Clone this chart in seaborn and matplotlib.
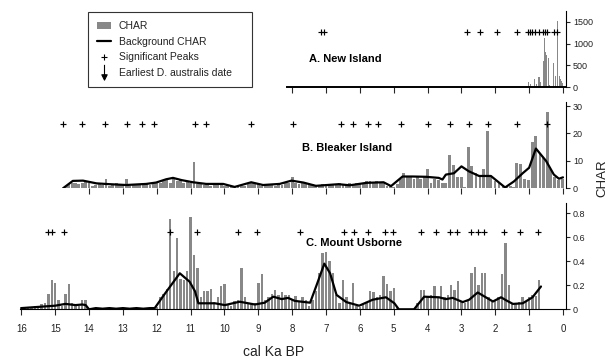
import numpy as np
import matplotlib
matplotlib.use("Agg")
import matplotlib.pyplot as plt
import seaborn as sns
from matplotlib.path import Path
from matplotlib.lines import Line2D
from matplotlib.patches import Patch

# ---------------- data ----------------
# A. New Island
a_ages = [1.01, 0.96, 0.85, 0.79, 0.71, 0.66, 0.57, 0.54, 0.51, 0.48,
          0.44, 0.39, 0.27, 0.23, 0.16, 0.11, 0.07, 0.04, 0.01]
a_char = [120, 70, 200, 80, 225, 110, 600, 1130, 800, 730,
          670, 50, 560, 250, 1520, 250, 200, 140, 100]
a_peaks = [7.15, 7.07, 2.85, 2.45, 1.96, 1.37, 1.02, 0.97, 0.92, 0.83,
           0.70, 0.58, 0.53, 0.48, 0.27, 0.17]

# B. Bleaker Island
b_ages_left = np.round(np.arange(14.7, 3.75, -0.1), 1)
b_char_left = [0.5, 1.5, 2.0, 2.0, 1.5, 2.0, 2.2, 1.8, 1.0, 1.2,
               1.5, 1.2, 3.4, 1.0, 1.5, 2.0, 1.5, 1.2, 3.3, 1.0,
               1.2, 1.5, 1.2, 2.0, 1.5, 1.2, 2.0, 2.0, 2.0, 2.5,
               3.0, 2.0, 3.5, 2.5, 3.0, 2.0, 2.5, 2.0, 9.7, 1.5,
               1.5, 1.2, 1.5, 1.0, 1.5, 1.2, 1.5, 1.0, 1.2, 0.8,
               0.5, 0.5, 1.0, 1.0, 1.5, 2.2, 2.0, 1.5, 1.0, 1.5,
               1.2, 1.5, 1.0, 1.5, 1.2, 1.8, 2.0, 4.0, 2.0, 1.5,
               1.8, 1.5, 1.2, 1.5, 0.8, 1.0, 1.5, 1.2, 1.5, 1.2,
               1.5, 2.0, 1.2, 1.5, 2.0, 1.5, 2.0, 1.5, 2.0, 2.5,
               2.5, 2.2, 2.5, 2.0, 2.2, 1.0, 0.8, 0.5, 1.5, 3.5,
               5.5, 4.0, 4.0, 3.5, 4.0, 3.5, 4.0, 7.0, 2.0, 3.5]
b_ages_right = [3.68, 3.57, 3.46, 3.34, 3.23, 3.12, 3.01, 2.91, 2.80, 2.69,
                2.57, 2.45, 2.34, 2.23, 2.13, 2.01, 1.89, 1.77, 1.66, 1.54,
                1.45, 1.37, 1.25, 1.14, 1.02, 0.90, 0.80, 0.68, 0.58, 0.47,
                0.36, 0.24, 0.13, 0.02]
b_char_right = [3.0, 2.0, 2.0, 12.3, 8.5, 4.0, 4.0, 0.5, 15.0, 8.0,
                5.5, 4.5, 7.0, 21.0, 4.0, 2.5, 2.0, 1.0, 0.3, 1.0,
                0.5, 9.2, 9.0, 3.5, 3.0, 17.0, 19.0, 13.0, 11.0, 28.0,
                7.0, 4.0, 3.0, 3.5]
b_bg_ages = [14.77, 14.48, 14.18, 13.78, 13.39, 12.9, 12.31, 12.02, 11.72, 11.52,
             11.27, 10.93, 10.54, 10.04, 9.7, 9.21, 8.86, 8.37, 8.02, 7.67,
             7.3, 6.63, 6.3, 5.8, 5.3, 5.08, 4.74, 4.44, 4.05, 3.67,
             3.56, 3.46, 3.22, 3.0, 2.78, 2.48, 2.13, 1.93, 1.71, 1.45,
             1.19, 1.0, 0.8, 0.5, 0.27, 0.12, 0.0]
b_bg = [0.0, 2.7, 2.8, 1.8, 1.5, 1.2, 1.6, 2.1, 3.3, 3.8,
        3.0, 2.2, 1.6, 1.6, 0.5, 2.2, 1.2, 1.6, 2.8, 2.1,
        0.9, 1.5, 1.1, 2.0, 2.2, 0.8, 4.3, 4.3, 4.2, 3.8,
        3.2, 5.0, 5.5, 8.0, 6.2, 4.5, 4.5, 2.5, 0.3, 2.5,
        5.5, 7.5, 14.5, 10.0, 5.0, 3.5, 4.0]
b_peaks = [14.77, 14.21, 13.54, 12.88, 12.43, 12.09, 10.88, 10.54, 9.21, 7.99,
           6.56, 6.21, 5.77, 5.47, 4.79, 4.00, 3.34, 2.79, 2.22, 1.37, 0.48]

# C. Mount Usborne
c_ages_early = np.round(np.arange(16.0, 13.95, -0.1), 1)
c_char_early = [0.02, 0.01, 0.02, 0.02, 0.03, 0.03, 0.04, 0.05, 0.13, 0.24,
                0.22, 0.08, 0.03, 0.125, 0.21, 0.05, 0.03, 0.03, 0.075, 0.077,
                0.0]
c_ages_late = np.round(np.arange(12.0, 0.65, -0.1), 1)
c_char_late = [0.02, 0.10, 0.13, 0.17, 0.75, 0.32, 0.59, 0.25, 0.24, 0.32,
               0.77, 0.45, 0.34, 0.10, 0.15, 0.15, 0.17, 0.06, 0.10, 0.19,
               0.21, 0.04, 0.03, 0.07, 0.08, 0.34, 0.10, 0.05, 0.04, 0.05,
               0.22, 0.29, 0.08, 0.10, 0.13, 0.16, 0.12, 0.14, 0.12, 0.12,
               0.08, 0.11, 0.06, 0.10, 0.08, 0.03, 0.08, 0.15, 0.30, 0.47,
               0.48, 0.40, 0.30, 0.12, 0.05, 0.24, 0.10, 0.04, 0.22, 0.03,
               0.02, 0.04, 0.06, 0.15, 0.14, 0.10, 0.12, 0.28, 0.21, 0.15,
               0.18, 0.02, 0.0, 0.0, 0.0, 0.0, 0.0, 0.05, 0.16, 0.16,
               0.10, 0.12, 0.195, 0.10, 0.19, 0.10, 0.12, 0.20, 0.16, 0.235,
               0.07, 0.05, 0.08, 0.30, 0.355, 0.20, 0.30, 0.30, 0.10, 0.06,
               0.08, 0.10, 0.29, 0.55, 0.20, 0.05, 0.04, 0.06, 0.10, 0.06,
               0.10, 0.12, 0.11, 0.245]
c_bg_ages = [16.0, 15.5, 15.0, 14.7, 14.4, 14.2, 14.1, 14.0, 13.8, 13.6,
             13.4, 13.2, 13.0, 12.8, 12.6, 12.4, 12.2, 12.06, 11.76, 11.32,
             11.03, 10.87, 10.77, 10.5, 10.28, 9.99, 9.55, 9.1, 8.81, 8.56,
             8.31, 8.12, 7.92, 7.62, 7.47, 7.28, 7.05, 6.88, 6.69, 6.4,
             6.02, 5.62, 5.23, 4.98, 4.85, 4.4, 4.1, 3.66, 3.46, 3.26,
             2.96, 2.77, 2.52, 2.22, 2.07, 1.83, 1.68, 1.48, 1.19, 0.9,
             0.65]
c_bg = [0.01, 0.02, 0.03, 0.045, 0.035, 0.04, 0.035, 0.0, 0.01, 0.005,
        0.01, 0.005, 0.01, 0.005, 0.01, 0.005, 0.01, 0.01, 0.13, 0.30,
        0.23, 0.15, 0.05, 0.05, 0.05, 0.035, 0.063, 0.04, 0.055, 0.105,
        0.085, 0.095, 0.07, 0.06, 0.055, 0.2, 0.38, 0.3, 0.12, 0.06,
        0.03, 0.08, 0.1, 0.05, 0.0, 0.0, 0.105, 0.1, 0.085, 0.095,
        0.06, 0.08, 0.14, 0.09, 0.065, 0.1, 0.075, 0.045, 0.05, 0.1,
        0.19]
c_peaks = [15.21, 15.10, 14.75, 11.62, 10.80, 9.60, 9.03, 7.78, 6.46, 6.17,
           5.75, 5.25, 5.01, 4.19, 3.75, 3.34, 3.14, 2.72, 2.52, 2.33,
           1.73, 1.27, 0.75]

a_yticks = [0, 500, 1000, 1500]
b_yticks = [0, 10, 20, 30]
c_yticks = [0, 0.2, 0.4, 0.6, 0.8]
c_yticklabels = ["0", "0.2", "0.4", "0.6", "0.8"]
x_ticks = list(range(16, -1, -1))

# ---------------- style ----------------
sns.set_style("white")
plt.rcParams["font.family"] = ["Liberation Sans", "DejaVu Sans"]
BAR = "#888888"
TXT = "#222222"

W, H = 612, 358
fig = plt.figure(figsize=(W / 100, H / 100), dpi=100)

XL, XR = 20 / W, 566 / W
xlim = (16.04, -0.089)


def mk_axes(top_px, bot_px):
    return fig.add_axes([XL, 1 - bot_px / H, XR - XL, (bot_px - top_px) / H])


def style(ax, ylim, yticks, ylabels=None):
    ax.set_xlim(*xlim)
    ax.set_ylim(*ylim)
    ax.yaxis.tick_right()
    for s in ["top", "left"]:
        ax.spines[s].set_visible(False)
    ax.spines["right"].set_linewidth(0.8)
    ax.spines["bottom"].set_linewidth(0.8)
    ax.spines["right"].set_color("black")
    ax.spines["bottom"].set_color("black")
    ax.set_yticks(yticks)
    if ylabels is not None:
        ax.set_yticklabels(ylabels)
    ax.tick_params(axis="y", direction="out", length=3, width=0.8,
                   labelsize=6.5, labelcolor=TXT, pad=2, right=True, left=False)
    ax.tick_params(axis="x", direction="out", length=4.3, width=0.8,
                   labelsize=7, labelcolor=TXT, pad=6, bottom=True)
    ax.set_xlabel("")
    ax.set_ylabel("")
    ax.grid(False)
    ax.patch.set_alpha(0)


def draw(ax, ages, vals, width, bg_x, bg_y, peaks, peak_y):
    ax.bar(ages, vals, width=width, color=BAR, linewidth=0, zorder=2)
    sns.lineplot(x=bg_x, y=bg_y, ax=ax, color="black", linewidth=1.6,
                 sort=False, zorder=3, legend=False)
    sns.scatterplot(x=peaks, y=[peak_y] * len(peaks), ax=ax, marker="+",
                    color="black", s=24, linewidth=0.85, zorder=4, legend=False)


# Panel A
axA = mk_axes(11, 87.3)
axA.bar(a_ages, a_char, width=0.034, color=BAR, linewidth=0, zorder=2)
sns.scatterplot(x=a_peaks, y=[1270] * len(a_peaks), ax=axA, marker="+",
                color="black", s=24, linewidth=0.85, zorder=4, legend=False)
style(axA, (0, 1745), a_yticks)
axA.spines["bottom"].set_bounds(8.15, xlim[1])
axA.spines["bottom"].set_linewidth(1.4)
axA.set_xticks(list(range(8, -1, -1)))
axA.set_xticklabels([])

# Panel B
axB = mk_axes(101.7, 188.3)
ab = list(b_ages_left) + list(b_ages_right)
vb = list(b_char_left) + list(b_char_right)
draw(axB, ab, vb, 0.085, b_bg_ages, b_bg, b_peaks, 23.4)
style(axB, (0, 31.6), b_yticks)
axB.spines["bottom"].set_visible(False)
axB.set_xticks(list(range(14, -1, -1)))
axB.set_xticklabels([])

# Panel C
axC = mk_axes(203.3, 309.3)
ac = list(c_ages_early) + list(c_ages_late)
vc = list(c_char_early) + list(c_char_late)
draw(axC, ac, vc, 0.07, c_bg_ages, c_bg, c_peaks, 0.647)
style(axC, (0, 0.883), c_yticks, c_yticklabels)
axC.set_xticks(x_ticks)
axC.set_xticklabels([str(t) for t in x_ticks])

# Panel titles
fig.text(309.3 / W, 1 - 59 / H, "A. New Island", fontsize=8, fontweight="bold",
         ha="left", va="center", color="black")
fig.text(302.5 / W, 1 - 148.3 / H, "B. Bleaker Island", fontsize=8, fontweight="bold",
         ha="left", va="center", color="black")
fig.text(306 / W, 1 - 242.7 / H, "C. Mount Usborne", fontsize=8, fontweight="bold",
         ha="left", va="center", color="black")

# Axis labels
fig.text(274 / W, 1 - 351.7 / H, "cal Ka BP", fontsize=10, ha="center",
         va="center", color=TXT)
fig.text(602.7 / W, 1 - 178.3 / H, "CHAR", fontsize=9.5, rotation=90,
         ha="center", va="center", color=TXT)

# Legend
arrow_path = Path([(0, 1), (0, -0.3), (-0.35, -0.3), (0, -1), (0.35, -0.3), (-0.35, -0.3)],
                  [Path.MOVETO, Path.LINETO, Path.MOVETO, Path.LINETO, Path.LINETO,
                   Path.CLOSEPOLY])
handles = [
    Patch(facecolor=BAR, edgecolor="none"),
    Line2D([], [], color="black", linewidth=1.6),
    Line2D([], [], color="black", marker="+", linestyle="none", markersize=5,
           markeredgewidth=0.8),
    Line2D([], [], color="black", marker=arrow_path, linestyle="none",
           markersize=11, markeredgewidth=0.8),
]
labels = ["CHAR", "Background CHAR", "Significant Peaks", "Earliest D. australis date"]
leg = fig.legend(handles, labels, loc="upper left", mode="expand",
                 bbox_to_anchor=(88 / W, 1 - 87 / H, 164 / W, 75 / H),
                 bbox_transform=fig.transFigure,
                 borderaxespad=0, fontsize=7.5, frameon=True, fancybox=False,
                 edgecolor="#333333", framealpha=1, handlelength=1.4,
                 handleheight=0.7, handletextpad=0.7, labelspacing=0.55,
                 borderpad=0.85)
leg.get_frame().set_linewidth(0.8)
for t in leg.get_texts():
    t.set_color(TXT)

fig.savefig("out.png", dpi=100)
